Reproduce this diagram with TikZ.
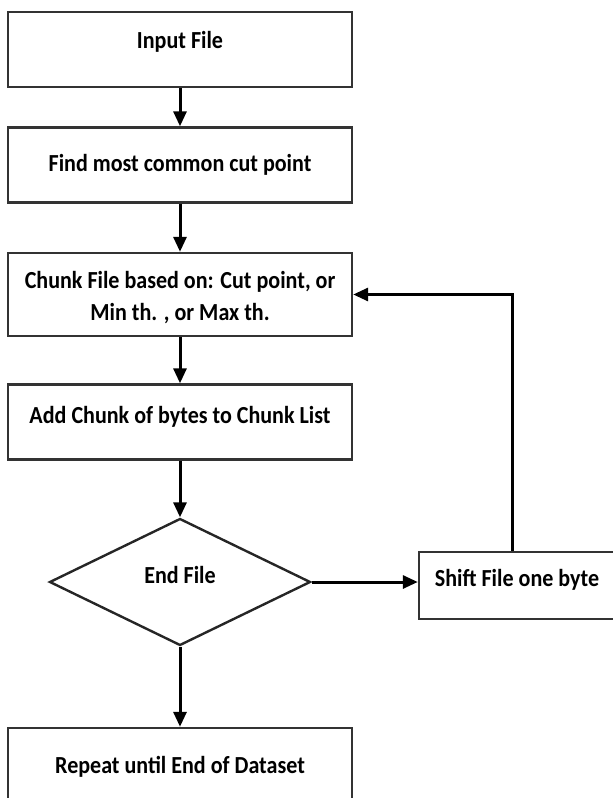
\documentclass[tikz,border=0pt]{standalone}
\usepackage{fontspec}
\setmainfont{Carlito}[FakeStretch=0.9]
\usetikzlibrary{shapes.geometric, arrows.meta}
\begin{document}
\begin{tikzpicture}[x=1pt, y=-1pt,
  box/.style = {draw=black!80, line width=2.4pt, minimum width=344, minimum height=75, inner sep=0, align=center, font=\fontsize{24.5}{32}\selectfont\bfseries},
  dec/.style = {draw=black!85, diamond, line width=2.4pt, minimum width=261, minimum height=127, inner sep=0, font=\fontsize{24.5}{32}\selectfont\bfseries},
  up/.style = {text height=17, text depth=#1},
  flow/.style = {-{Triangle[length=15pt, width=13pt]}, line width=3pt}]
  \clip (0,0) rectangle (613,798);
  \node[box, up=20] (input) at (180,49.5) {Input File};
  \node[box, up=5] (common) at (180,165) {Find most common cut point};
  \node[box, text height=57, text depth=6, minimum height=83] (chunk) at (180,294.5) {Chunk File based on: Cut point, or\\Min th. , or Max th.};
  \node[box, up=15] (add) at (180,422) {Add Chunk of bytes to Chunk List};
  \node[dec, up=15] (end) at (180,582) {End File};
  \node[box, up=16, minimum width=196, minimum height=67] (shift) at (517,585.5) {Shift File one byte};
  \node[box, up=14, minimum height=87] (repeat) at (180,771.5) {Repeat until End of Dataset};
  \draw[flow] (input) -- (common);
  \draw[flow] (common) -- (chunk);
  \draw[flow] (chunk) -- (add);
  \draw[flow] (add) -- (end);
  \draw[flow] (end) -- (repeat);
  \draw[flow] (end.east) -- (end.east -| shift.west);
  \draw[flow] ([xshift=-5]shift.north) |- (chunk.east);
\end{tikzpicture}
\end{document}
